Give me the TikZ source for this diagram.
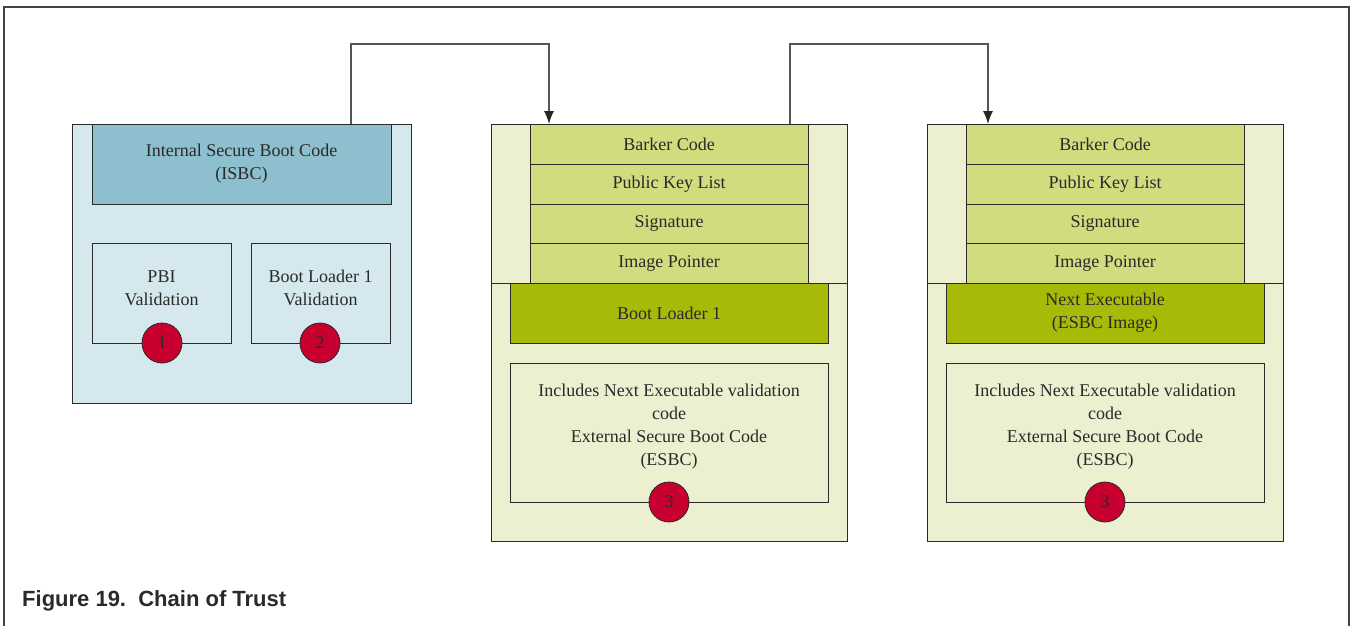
\documentclass[tikz,border=0pt]{standalone}
\usepackage{fontspec}
\setmainfont{Liberation Serif}
\newfontfamily\capfont{Liberation Sans}
\usetikzlibrary{arrows.meta}
\definecolor{frameC}{HTML}{444444}
\definecolor{txtC}{HTML}{2A2A2A}
\definecolor{blueL}{HTML}{D5E8EE}
\definecolor{blueD}{HTML}{8DBFCE}
\definecolor{greenL}{HTML}{EDF0D0}
\definecolor{greenM}{HTML}{D0DC7E}
\definecolor{greenD}{HTML}{A8BA08}
\definecolor{redC}{HTML}{C8002F}
\definecolor{lineC}{HTML}{555555}
\tikzset{
  box/.style={draw=txtC, line width=1pt, anchor=north west, inner sep=0pt, outer sep=0pt,
    align=center, text=txtC, font=\fontsize{18}{23}\selectfont},
  txt/.style={align=center, text=txtC, font=\fontsize{18}{23}\selectfont, inner sep=0pt},
  num/.style={circle, draw=txtC, line width=0.8pt, fill=redC, minimum size=40pt, inner sep=0pt,
    text=txtC, font=\fontsize{18}{20}\selectfont},
  arr/.style={draw=lineC, line width=1.3pt, -{Latex[length=13pt,width=10pt,color=black!85]}},
}
\begin{document}
\begin{tikzpicture}[x=1pt,y=-1pt]
\useasboundingbox (0,0) rectangle (1352,626);
% outer frame
\draw[frameC, line width=2.2pt] (4,630) -- (4,7) -- (1349,7) -- (1349,630);

% ---------- left group ----------
\node[box, fill=blueL, minimum width=339pt, minimum height=279pt] (L) at (72,124) {};
\node[box, fill=blueD, minimum width=299pt, minimum height=80pt] (isbc) at (92,124) {Internal Secure Boot Code\\(ISBC)};
\node[box, fill=blueL, minimum width=139pt, minimum height=100pt] (pbi) at (92,243) {};
\node[txt, yshift=5pt] (pbiT) at (pbi.center) {PBI\\Validation};
\node[box, fill=blueL, minimum width=139pt, minimum height=100pt] (blv) at (251,243) {};
\node[txt, yshift=5pt] (blvT) at (blv.center) {Boot Loader 1\\Validation};
\node[num] (c1) at (162,343) {1};
\node[num] (c2) at (320,343) {2};

% ---------- middle group ----------
\node[box, fill=greenL, minimum width=356pt, minimum height=417pt] (M) at (491,124) {};
\draw[txtC, line width=1pt] (491,283) -- (847,283);
\node[box, fill=greenM, minimum width=278pt, minimum height=40pt] (mb) at (530,124) {Barker Code};
\node[box, fill=greenM, minimum width=278pt, minimum height=40pt] (mp) at (530,164) {Public Key List};
\node[box, fill=greenM, minimum width=278pt, minimum height=39pt] (ms) at (530,204) {Signature};
\node[box, fill=greenM, minimum width=278pt, minimum height=40pt] (mi) at (530,243) {Image Pointer};
\node[box, fill=greenD, minimum width=318pt, minimum height=60pt] (mbl) at (510,283) {Boot Loader 1};
\node[box, fill=greenL, minimum width=318pt, minimum height=139pt] (me) at (510,363) {};
\node[txt, yshift=6pt] (meT) at (me.center) {Includes Next Executable validation\\code\\External Secure Boot Code\\(ESBC)};
\node[num] (c3a) at (669,502) {3};

% ---------- right group ----------
\node[box, fill=greenL, minimum width=356pt, minimum height=417pt] (R) at (927,124) {};
\draw[txtC, line width=1pt] (927,283) -- (1283,283);
\node[box, fill=greenM, minimum width=278pt, minimum height=40pt] (rb) at (966,124) {Barker Code};
\node[box, fill=greenM, minimum width=278pt, minimum height=40pt] (rp) at (966,164) {Public Key List};
\node[box, fill=greenM, minimum width=278pt, minimum height=39pt] (rs) at (966,204) {Signature};
\node[box, fill=greenM, minimum width=278pt, minimum height=40pt] (ri) at (966,243) {Image Pointer};
\node[box, fill=greenD, minimum width=318pt, minimum height=60pt] (rne) at (946,283) {Next Executable\\(ESBC Image)};
\node[box, fill=greenL, minimum width=318pt, minimum height=139pt] (re) at (946,363) {};
\node[txt, yshift=6pt] (reT) at (re.center) {Includes Next Executable validation\\code\\External Secure Boot Code\\(ESBC)};
\node[num] (c3b) at (1105,502) {3};

% ---------- connectors ----------
\coordinate (s1) at (351,124);
\coordinate (e1) at (549,124);
\coordinate (s2) at (790,124);
\coordinate (e2) at (988,124);
\draw[arr] (s1) -- ++(0,-80) -| (e1);
\draw[arr] (s2) -- ++(0,-80) -| (e2);

% caption
\node[anchor=base west, inner sep=0pt, text=txtC, font=\capfont\bfseries\fontsize{22}{26}\selectfont] (cap) at (22,606) {Figure 19.\ \ Chain of Trust};
\end{tikzpicture}
\end{document}
